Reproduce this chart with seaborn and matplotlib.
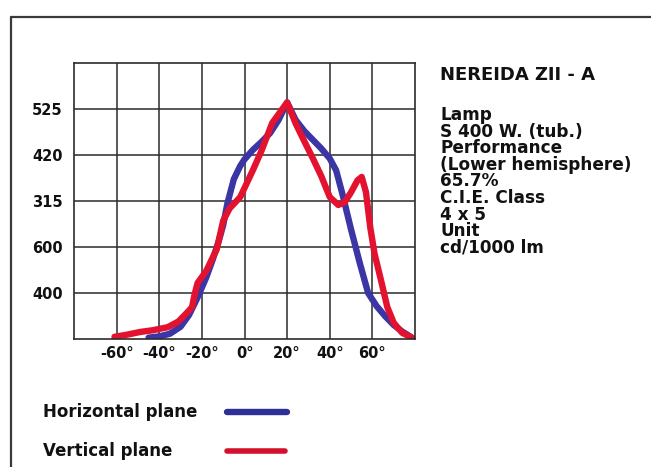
import matplotlib
matplotlib.use("Agg")
import matplotlib.pyplot as plt
from matplotlib.lines import Line2D
import seaborn as sns
import pandas as pd

# ---------------- data ----------------
series_names = ["Horizontal plane", "Vertical plane"]

h_angle = [-45, -40, -35, -30, -26, -22, -18, -15, -12, -10, -8, -5, -2, 0, 4, 8,
           12, 16, 20, 24, 28, 32, 36, 40, 43, 46, 50, 54, 58, 62, 66, 70, 74, 78]
h_value = [3, 6, 12, 28, 55, 95, 140, 180, 225, 260, 310, 365, 395, 410, 432, 450,
           470, 500, 540, 500, 475, 455, 435, 412, 385, 330, 250, 175, 105, 75, 52, 32, 17, 5]

v_angle = [-61, -55, -49, -43, -36, -31, -29, -26, -24.6, -23.5, -22, -18, -13, -10,
           -7, -2, 1, 4, 8, 13, 17, 20, 24, 28, 32, 36, 40, 44, 47, 50, 53, 55,
           57, 59, 61, 64, 67, 70, 74, 79]
v_value = [5, 10, 16, 20, 27, 40, 50, 65, 73, 100, 128, 155, 205, 270,
           298, 324, 355, 386, 430, 493, 520, 540, 492, 452, 413, 372, 324, 306, 312, 335, 362, 370,
           335, 255, 195, 135, 73, 37, 14, 2]

x_ticks = [-60, -40, -20, 0, 20, 40, 60]
x_tick_labels = ["-60°", "-40°", "-20°", "0°", "20°", "40°", "60°"]
y_ticks = [105, 210, 315, 420, 525]
y_tick_labels = ["400", "600", "315", "420", "525"]

info_title = "NEREIDA ZII - A"
info_lines = ["Lamp", "S 400 W. (tub.)", "Performance", "(Lower hemisphere)",
              "65.7%", "C.I.E. Class", "4 x 5", "Unit", "cd/1000 lm"]

line_colors = {"Horizontal plane": "#3b35a5", "Vertical plane": "#e3122e"}
legend_colors = {"Horizontal plane": "#2f2f98", "Vertical plane": "#d4102b"}

df = pd.concat([
    pd.DataFrame({"angle": h_angle, "value": h_value, "plane": series_names[0]}),
    pd.DataFrame({"angle": v_angle, "value": v_value, "plane": series_names[1]}),
], ignore_index=True)

# ---------------- figure ----------------
sns.set_style("white")
plt.rcParams["font.family"] = ["DejaVu Sans"]
plt.rcParams["font.weight"] = "bold"

W, H = 651, 467
fig = plt.figure(figsize=(W / 100, H / 100), dpi=100)
fig.patch.set_facecolor("white")

def fx(px):
    return px / W

def fy(py):
    return 1 - py / H

ax = fig.add_axes([fx(74), fy(339), fx(415) - fx(74), fy(63) - fy(339)])

sns.lineplot(data=df, x="angle", y="value", hue="plane", hue_order=series_names,
             palette=line_colors, linewidth=4.6, estimator=None, sort=False,
             legend=False, ax=ax)
for ln in ax.lines:
    ln.set_solid_capstyle("round")
    ln.set_solid_joinstyle("round")

ax.set_xlim(-80, 80)
ax.set_ylim(0, 630)
ax.set_xticks(x_ticks)
ax.set_xticklabels(x_tick_labels, fontsize=10.5, fontweight="bold")
ax.set_yticks(y_ticks)
ax.set_yticklabels(y_tick_labels, fontsize=10.5, fontweight="bold")
ax.set_xlabel("")
ax.set_ylabel("")
ax.tick_params(axis="x", length=0, pad=5, colors="#111111")
ax.tick_params(axis="y", length=0, pad=8, colors="#111111")
ax.grid(True, color="#2b2b2b", linewidth=1.1)
ax.set_axisbelow(True)
for s in ax.spines.values():
    s.set_visible(True)
    s.set_color("#2b2b2b")
    s.set_linewidth(1.2)

# outer frame (top and left)
fig.add_artist(Line2D([fx(11), 1], [fy(17), fy(17)], transform=fig.transFigure,
                      color="#3a3a3a", linewidth=1.6))
fig.add_artist(Line2D([fx(11), fx(11)], [0, fy(17)], transform=fig.transFigure,
                      color="#3a3a3a", linewidth=1.6))

# info panel
fig.text(fx(440), fy(80), info_title, fontsize=13, fontweight="bold",
         color="#111111", va="baseline", ha="left")
fig.text(fx(440), fy(106), "\n".join(info_lines), fontsize=12.2, fontweight="bold",
         color="#111111", va="top", ha="left", linespacing=0.9)

# legend
leg_rows = [(series_names[0], 412, 227, 287, 4.6), (series_names[1], 451, 227, 285, 4.0)]
for name, yc, x0, x1, lw in leg_rows:
    fig.text(fx(43), fy(yc), name, fontsize=12, fontweight="bold",
             color="#111111", va="center", ha="left")
    fig.add_artist(Line2D([fx(x0), fx(x1)], [fy(yc), fy(yc)], transform=fig.transFigure,
                          color=legend_colors[name], linewidth=lw))

fig.savefig("out.png", dpi=100)
